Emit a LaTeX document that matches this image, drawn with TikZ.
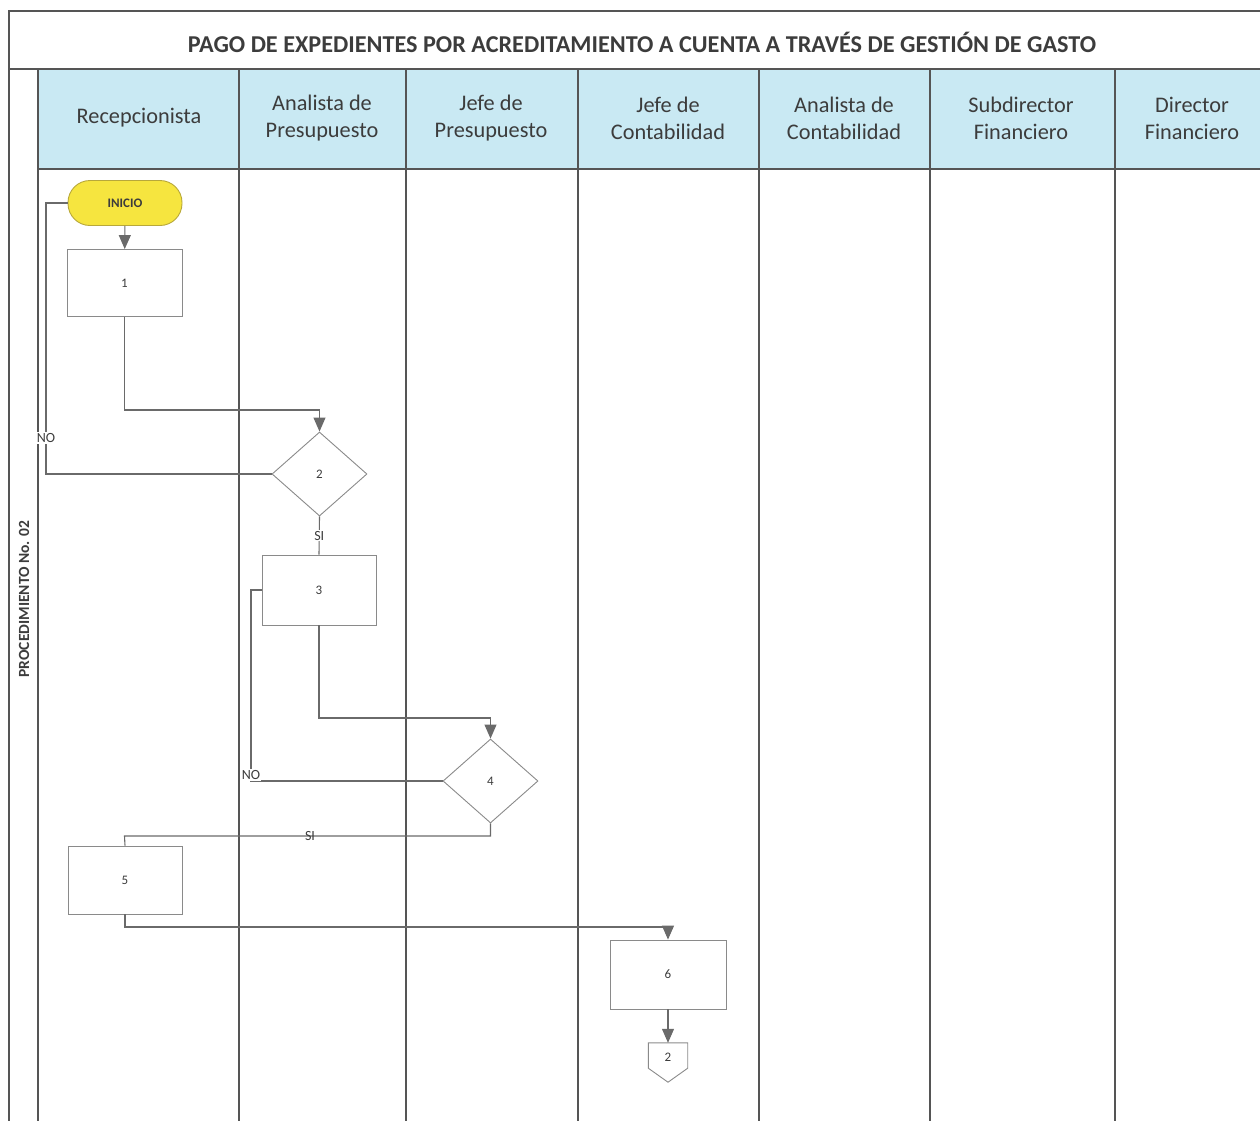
\documentclass[tikz,border=0pt]{standalone}
\usepackage{fontspec}
\setmainfont{Carlito}
\usetikzlibrary{arrows.meta,shapes.geometric}
\definecolor{txt}{HTML}{3C3C3C}
\definecolor{hdrfill}{HTML}{C9E9F3}
\definecolor{lanecol}{HTML}{555555}
\definecolor{flowcol}{HTML}{6A6A6A}
\definecolor{boxcol}{HTML}{8A8A8A}
\definecolor{startfill}{HTML}{F6E53F}
\definecolor{startdraw}{HTML}{B8A83A}
\tikzset{
  lane/.style={draw=lanecol, line width=1.3pt},
  hd/.style={align=center, text=txt, font=\fontsize{22.3}{27}\selectfont},
  ttl/.style={text=txt, font=\bfseries\fontsize{24.2}{28}\selectfont},
  proc/.style={draw=boxcol, line width=0.9pt, fill=white, minimum width=115pt, minimum height=67pt, inner sep=0pt, text=txt, font=\fontsize{13}{15}\selectfont},
  dec/.style={diamond, draw=boxcol, line width=0.9pt, fill=white, minimum width=95pt, minimum height=84pt, inner sep=0pt, text=txt, font=\fontsize{13}{15}\selectfont},
  startbox/.style={draw=startdraw, line width=0.9pt, fill=startfill, rounded corners=22pt, minimum width=114pt, minimum height=45pt, inner sep=0pt, text=txt, font=\bfseries\fontsize{13}{15}\selectfont},
  offpage/.style={minimum width=39pt, minimum height=39pt, inner sep=0pt, text=txt, font=\fontsize{13}{15}\selectfont},
  flow/.style={draw=flowcol, line width=1.1pt},
  arr/.style={-{Triangle[length=14pt,width=12pt]}, flowcol},
  lbl/.style={text=txt, font=\fontsize{14}{16}\selectfont, inner sep=1pt},
  lblw/.style={lbl, fill=white}
}
\begin{document}
\begin{tikzpicture}[x=1pt,y=-1pt]
\useasboundingbox (0,0) rectangle (1260,1120);
\clip (0,0) rectangle (1260,1120);
% header band
\fill[hdrfill] (38,69) rectangle (1280,169);
% frame and lanes
\draw[lane] (9,11) rectangle (1280,1135);
\draw[lane] (9,69) -- (1280,69);
\draw[lane] (38,69) -- (38,1135);
\draw[lane] (38,169) -- (1280,169);
\foreach \x in {239,406,578,759,930,1115} \draw[lane] (\x,69) -- (\x,1135);
% title and side label
\node[ttl] (title) at (642,42) {PAGO DE EXPEDIENTES POR ACREDITAMIENTO A CUENTA A TRAVÉS DE GESTIÓN DE GASTO};
\node[rotate=90, text=txt, font=\bfseries\fontsize{15.5}{18}\selectfont] (side) at (24,599) {PROCEDIMIENTO No. 02};
% lane headers
\node[hd] (h1) at (139,118) {Recepcionista};
\node[hd] (h2) at (322,118) {Analista de\\Presupuesto};
\node[hd] (h3) at (491,118) {Jefe de\\Presupuesto};
\node[hd] (h4) at (668,118) {Jefe de\\Contabilidad};
\node[hd] (h5) at (844,118) {Analista de\\Contabilidad};
\node[hd] (h6) at (1021,118) {Subdirector\\Financiero};
\node[hd] (h7) at (1192,118) {Director\\Financiero};
% flow nodes
\node[startbox] (ini) at (125,203) {INICIO};
\node[proc] (p1) at (124.5,283) {1};
\node[dec] (d2) at (319.5,474) {2};
\node[proc, minimum width=114pt, minimum height=70pt] (p3) at (319,590) {3};
\node[dec] (d4) at (490.5,781) {4};
\node[proc, minimum width=114pt, minimum height=68pt] (p5) at (125,880) {5};
\node[proc, minimum width=116pt, minimum height=69pt] (p6) at (668,974.5) {6};
\node[offpage] (c2) at (668,1062.5) {};
\draw[draw=boxcol, line width=0.9pt] (c2.north west) -- (c2.north east) -- ([yshift=14pt]c2.south east) -- (c2.south) -- ([yshift=14pt]c2.south west) -- cycle;
\node[text=txt, font=\fontsize{13}{15}\selectfont] (c2t) at (668,1057) {2};
% bend points
\coordinate (k1) at (319.5,410);
\coordinate (k2) at (46,203);
\coordinate (k3) at (490.5,718);
\coordinate (k4) at (251,590);
\coordinate (k5) at (124.5,836);
\coordinate (k6) at (668,927);
% connectors
\draw[flow, arr] (ini) -- (p1);
\draw[flow, arr] (p1.south) |- (k1) -- (d2.north);
\draw[flow] (d2.west) -| (k2) -- (ini.west);
\node[lblw] (no1) at (46,438) {NO};
\draw[flow] (d2.south) -- node[lblw] (si1) {SI} (p3.north);
\draw[flow, arr] (p3.south) |- (k3) -- (d4.north);
\draw[flow] (d4.west) -| (k4) -- (p3.west);
\node[lblw] (no2) at (251,775) {NO};
\draw[flow] (d4.south) |- (k5) -- (p5.north);
\node[lbl] (si2) at (310,836) {SI};
\draw[flow, arr] (p5.south) |- (k6) -- (p6.north);
\draw[flow, arr] (p6) -- (c2.north);
\end{tikzpicture}
\end{document}
